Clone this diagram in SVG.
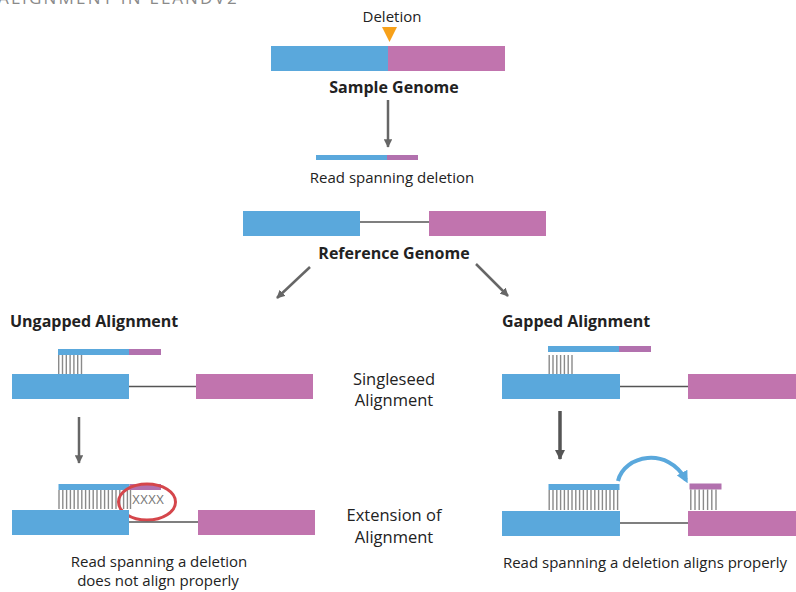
<svg xmlns="http://www.w3.org/2000/svg" width="796" height="592" viewBox="0 0 796 592">
<style>
text{font-family:"Open Sans","Noto Sans","Liberation Sans",sans-serif;fill:#222;}
.lbl{font-size:15px;}
.side{font-size:16.5px;text-anchor:middle;}
.b{font-size:16px;font-weight:bold;}
.c{text-anchor:middle;}
.blue{fill:#5AA8DC;}
.mag{fill:#C174AE;}
.rmag{fill:#B271AE;}
.gline{stroke:#555;stroke-width:1.3;fill:none;}
.tick{stroke:#8a8a8a;stroke-width:1.4;fill:none;}
.arr{stroke:#666;stroke-width:2.5;fill:none;}
</style>
<defs>
<marker id="ah" viewBox="0 0 10 10" refX="9" refY="5" markerWidth="3.4" markerHeight="3.4" orient="auto" markerUnits="strokeWidth">
<path d="M0,0 L10,5 L0,10 z" fill="#666"/>
</marker>
<marker id="ah2" viewBox="0 0 10 10" refX="9" refY="5" markerWidth="3" markerHeight="3" orient="auto" markerUnits="strokeWidth">
<path d="M0,0 L10,5 L0,10 z" fill="#555"/>
</marker>
<marker id="ahb" viewBox="0 0 10 10" refX="7" refY="5" markerWidth="3" markerHeight="3" orient="auto" markerUnits="strokeWidth">
<path d="M0,0 L10,5 L0,10 z" fill="#5AA8DC"/>
</marker>
</defs>

<text x="-2" y="4" style="font-size:17px;fill:#8a8a8a;letter-spacing:2.2px">ALIGNMENT IN ELANDV2</text>

<g id="sample-genome">
<text class="lbl c" x="392" y="22">Deletion</text>
<polygon points="382,27 397,27 389.5,42" fill="#F7A11A"/>
<rect class="blue" x="271" y="46" width="117" height="25"/>
<rect class="mag" x="388" y="46" width="117" height="25"/>
<text class="b c" x="394" y="93">Sample Genome</text>
</g>

<g id="read">
<rect class="blue" x="316" y="155" width="71" height="5"/>
<rect class="rmag" x="387" y="155" width="31" height="5"/>
<text class="lbl c" x="392" y="183">Read spanning deletion</text>
</g>

<g id="reference-genome">
<rect class="blue" x="243" y="211" width="117" height="25"/>
<line class="gline" x1="360" y1="222" x2="429" y2="222"/>
<rect class="mag" x="429" y="211" width="117" height="25"/>
<text class="b c" x="394" y="259">Reference Genome</text>
</g>

<g id="connectors">
<line class="arr" x1="388" y1="100" x2="388" y2="147" marker-end="url(#ah)"/>
<line class="arr" x1="310" y1="267" x2="277" y2="298" marker-end="url(#ah)"/>
<line class="arr" x1="476" y1="264" x2="508" y2="296" marker-end="url(#ah)"/>
<line class="arr" x1="79" y1="417" x2="79" y2="463" marker-end="url(#ah)"/>
<line x1="560" y1="411" x2="560" y2="459" stroke="#555" stroke-width="3.5" marker-end="url(#ah2)"/>
<path d="M618,481 C624,455 668,446 686,480" stroke="#5AA8DC" stroke-width="4" fill="none" marker-end="url(#ahb)"/>
</g>

<g id="ungapped-title"><text class="b" x="10" y="327">Ungapped Alignment</text></g>
<g id="gapped-title"><text class="b" x="502" y="327">Gapped Alignment</text></g>

<g id="ungapped-singleseed">
<rect class="blue" x="58" y="349" width="71" height="6"/>
<rect class="rmag" x="129" y="349" width="32" height="6"/>
<path class="tick" d="M58.7,355V374M62.5,355V374M66.3,355V374M70.1,355V374M73.9,355V374M77.7,355V374M81.5,355V374"/>
<rect class="blue" x="12" y="374" width="117" height="25"/>
<line class="gline" x1="129" y1="386.5" x2="196" y2="386.5"/>
<rect class="mag" x="196" y="374" width="117" height="25"/>
</g>

<g id="singleseed-label">
<text class="side" x="394" y="385">Singleseed</text>
<text class="side" x="394" y="406">Alignment</text>
</g>

<g id="ungapped-extension">
<rect class="blue" x="58.5" y="484" width="71" height="6"/>
<rect class="rmag" x="129.5" y="484" width="31.5" height="6"/>
<path class="tick" d="M59,490V509M62.8,490V509M66.6,490V509M70.4,490V509M74.2,490V509M78,490V509M81.8,490V509M85.6,490V509M89.4,490V509M93.2,490V509M97,490V509M100.8,490V509M104.6,490V509M108.4,490V509M112.2,490V509M116,490V509M119.8,490V509M123.6,490V509M127.4,490V509M130.5,490V509"/>
<text x="132" y="504" style="font-size:12px;fill:#777;font-family:'Liberation Sans',sans-serif">XXXX</text>
<ellipse cx="147" cy="502" rx="28.5" ry="18" fill="none" stroke="#D5464B" stroke-width="3"/>
<rect class="blue" x="12" y="510" width="117" height="25"/>
<line class="gline" x1="129" y1="522" x2="198" y2="522"/>
<rect class="mag" x="198" y="510" width="117" height="25"/>
<text class="lbl c" x="159" y="567">Read spanning a deletion</text>
<text class="lbl c" x="158" y="586">does not align properly</text>
</g>

<g id="extension-label">
<text class="side" x="394" y="521">Extension of</text>
<text class="side" x="394" y="543">Alignment</text>
</g>

<g id="gapped-singleseed">
<rect class="blue" x="548" y="346" width="71" height="6"/>
<rect class="rmag" x="619" y="346" width="32" height="6"/>
<path class="tick" d="M549.2,355V374M553,355V374M556.8,355V374M560.6,355V374M564.4,355V374M568.2,355V374M572,355V374"/>
<rect class="blue" x="502" y="374" width="118" height="25"/>
<line class="gline" x1="620" y1="386.5" x2="688" y2="386.5"/>
<rect class="mag" x="688" y="374" width="108" height="25"/>
</g>

<g id="gapped-extension">
<rect class="blue" x="548.5" y="484" width="71" height="6"/>
<path class="tick" d="M549.2,490V510M553,490V510M556.8,490V510M560.6,490V510M564.4,490V510M568.2,490V510M572,490V510M575.8,490V510M579.6,490V510M583.4,490V510M587.2,490V510M591,490V510M594.8,490V510M598.6,490V510M602.4,490V510M606.2,490V510M610,490V510M613.8,490V510M617.6,490V510"/>
<rect class="rmag" x="689.5" y="483.5" width="32" height="6"/>
<path class="tick" d="M690.8,489.5V510M695,489.5V510M699.2,489.5V510M703.4,489.5V510M707.6,489.5V510M711.8,489.5V510M716,489.5V510"/>
<rect class="blue" x="502" y="511" width="118" height="25"/>
<line class="gline" x1="620" y1="523" x2="688" y2="523"/>
<rect class="mag" x="688" y="511" width="108" height="25"/>
<text class="lbl c" x="645" y="568">Read spanning a deletion aligns properly</text>
</g>
</svg>
